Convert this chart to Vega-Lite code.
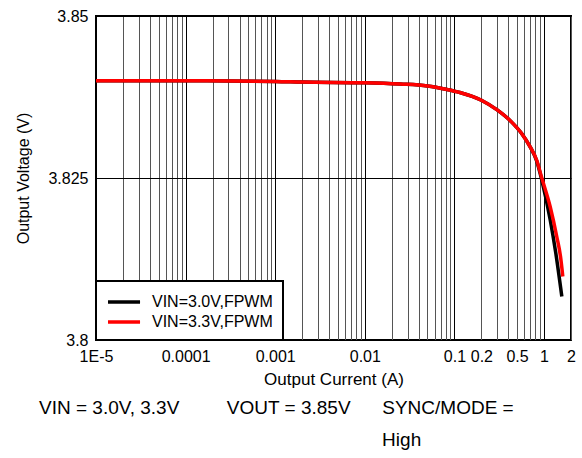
{
  "$schema": "https://vega.github.io/schema/vega-lite/v6.json",
  "width": 475,
  "height": 324,
  "autosize": {"type": "none"},
  "padding": {"left": 96, "top": 16, "right": 11, "bottom": 118},
  "background": "white",
  "config": {
    "font": "Liberation Sans",
    "view": {"stroke": "black", "strokeWidth": 2}
  },
  "title": {
    "text": [
      "VIN = 3.0V, 3.3V\u00a0\u00a0\u00a0\u00a0\u00a0\u00a0\u00a0\u00a0\u00a0VOUT = 3.85V\u00a0\u00a0\u00a0\u00a0\u00a0\u00a0SYNC/MODE =",
      "\u200b\u00a0\u00a0\u00a0\u00a0\u00a0\u00a0\u00a0\u00a0\u00a0\u00a0\u00a0\u00a0\u00a0\u00a0\u00a0\u00a0\u00a0\u00a0\u00a0\u00a0\u00a0\u00a0\u00a0\u00a0\u00a0\u00a0\u00a0\u00a0\u00a0\u00a0\u00a0\u00a0\u00a0\u00a0\u00a0\u00a0\u00a0\u00a0\u00a0\u00a0\u00a0\u00a0\u00a0\u00a0\u00a0\u00a0\u00a0\u00a0\u00a0\u00a0\u00a0\u00a0\u00a0\u00a0\u00a0\u00a0\u00a0\u00a0\u00a0\u00a0\u00a0\u00a0\u00a0\u00a0\u00a0High"
    ],
    "orient": "bottom",
    "anchor": "start",
    "frame": "group",
    "dx": -57,
    "fontSize": 19,
    "fontWeight": "normal",
    "color": "black",
    "lineHeight": 32,
    "offset": 12
  },
  "data": {
    "values": [
      {"I": 0.00001, "V": 3.8400, "s": "VIN=3.0V,FPWM"},
      {"I": 0.0001, "V": 3.8400, "s": "VIN=3.0V,FPWM"},
      {"I": 0.001, "V": 3.8399, "s": "VIN=3.0V,FPWM"},
      {"I": 0.002, "V": 3.8398, "s": "VIN=3.0V,FPWM"},
      {"I": 0.01, "V": 3.8397, "s": "VIN=3.0V,FPWM"},
      {"I": 0.025, "V": 3.8395, "s": "VIN=3.0V,FPWM"},
      {"I": 0.05, "V": 3.8392, "s": "VIN=3.0V,FPWM"},
      {"I": 0.08, "V": 3.8387, "s": "VIN=3.0V,FPWM"},
      {"I": 0.115, "V": 3.8382, "s": "VIN=3.0V,FPWM"},
      {"I": 0.2, "V": 3.8370, "s": "VIN=3.0V,FPWM"},
      {"I": 0.3, "V": 3.8355, "s": "VIN=3.0V,FPWM"},
      {"I": 0.43, "V": 3.8337, "s": "VIN=3.0V,FPWM"},
      {"I": 0.56, "V": 3.8319, "s": "VIN=3.0V,FPWM"},
      {"I": 0.7, "V": 3.8298, "s": "VIN=3.0V,FPWM"},
      {"I": 0.83, "V": 3.8276, "s": "VIN=3.0V,FPWM"},
      {"I": 0.94, "V": 3.8248, "s": "VIN=3.0V,FPWM"},
      {"I": 1.17, "V": 3.8186, "s": "VIN=3.0V,FPWM"},
      {"I": 1.35, "V": 3.8135, "s": "VIN=3.0V,FPWM"},
      {"I": 1.58, "V": 3.8067, "s": "VIN=3.0V,FPWM"},
      {"I": 0.00001, "V": 3.8400, "s": "VIN=3.3V,FPWM"},
      {"I": 0.0001, "V": 3.8400, "s": "VIN=3.3V,FPWM"},
      {"I": 0.001, "V": 3.8399, "s": "VIN=3.3V,FPWM"},
      {"I": 0.002, "V": 3.8398, "s": "VIN=3.3V,FPWM"},
      {"I": 0.01, "V": 3.8397, "s": "VIN=3.3V,FPWM"},
      {"I": 0.025, "V": 3.8395, "s": "VIN=3.3V,FPWM"},
      {"I": 0.05, "V": 3.8392, "s": "VIN=3.3V,FPWM"},
      {"I": 0.08, "V": 3.8387, "s": "VIN=3.3V,FPWM"},
      {"I": 0.115, "V": 3.8382, "s": "VIN=3.3V,FPWM"},
      {"I": 0.2, "V": 3.8370, "s": "VIN=3.3V,FPWM"},
      {"I": 0.3, "V": 3.8355, "s": "VIN=3.3V,FPWM"},
      {"I": 0.43, "V": 3.8337, "s": "VIN=3.3V,FPWM"},
      {"I": 0.56, "V": 3.8319, "s": "VIN=3.3V,FPWM"},
      {"I": 0.7, "V": 3.8298, "s": "VIN=3.3V,FPWM"},
      {"I": 0.83, "V": 3.8277, "s": "VIN=3.3V,FPWM"},
      {"I": 0.94, "V": 3.8251, "s": "VIN=3.3V,FPWM"},
      {"I": 1.17, "V": 3.8206, "s": "VIN=3.3V,FPWM"},
      {"I": 1.39, "V": 3.8159, "s": "VIN=3.3V,FPWM"},
      {"I": 1.53, "V": 3.8128, "s": "VIN=3.3V,FPWM"},
      {"I": 1.62, "V": 3.8098, "s": "VIN=3.3V,FPWM"}
    ]
  },
  "mark": {"type": "line", "strokeWidth": 3.5, "interpolate": "monotone"},
  "encoding": {
    "x": {
      "field": "I",
      "type": "quantitative",
      "scale": {"type": "log", "domain": [0.00001, 2], "nice": false},
      "axis": {
        "title": "Output Current (A)",
        "titleFontSize": 17,
        "titleFontWeight": "normal",
        "titleColor": "black",
        "titlePadding": 7,
        "values": [0.00001, 0.00002, 0.00003, 0.00004, 0.00005, 0.00006, 0.00007, 0.00008, 0.00009,
                   0.0001, 0.0002, 0.0003, 0.0004, 0.0005, 0.0006, 0.0007, 0.0008, 0.0009,
                   0.001, 0.002, 0.003, 0.004, 0.005, 0.006, 0.007, 0.008, 0.009,
                   0.01, 0.02, 0.03, 0.04, 0.05, 0.06, 0.07, 0.08, 0.09,
                   0.1, 0.2, 0.3, 0.4, 0.5, 0.6, 0.7, 0.8, 0.9, 1, 2],
        "labelExpr": "datum.value == 0.00001 ? '1E-5' : datum.value == 0.0001 ? '0.0001' : datum.value == 0.001 ? '0.001' : datum.value == 0.01 ? '0.01' : datum.value == 0.1 ? '0.1' : datum.value == 0.2 ? '0.2' : datum.value == 0.5 ? '0.5' : datum.value == 1 ? '1' : datum.value == 2 ? '2' : ''",
        "labelFontSize": 16,
        "labelColor": "black",
        "labelPadding": 8,
        "labelOverlap": false,
        "labelFlush": false,
        "labelBound": false,
        "ticks": false,
        "domain": false,
        "grid": true,
        "gridColor": {
          "condition": {"test": "abs(log(datum.value)/LN10 - round(log(datum.value)/LN10)) < 0.001", "value": "black"},
          "value": "#555555"
        },
        "gridWidth": 1,
        "gridOpacity": 1
      }
    },
    "y": {
      "field": "V",
      "type": "quantitative",
      "scale": {"domain": [3.8, 3.85], "nice": false, "zero": false},
      "axis": {
        "title": "Output Voltage (V)",
        "titleFontSize": 16,
        "titleFontWeight": "normal",
        "titleColor": "black",
        "titlePadding": 16,
        "values": [3.8, 3.825, 3.85],
        "labelExpr": "datum.value < 3.81 ? '3.8' : datum.value < 3.84 ? '3.825' : '3.85'",
        "labelFontSize": 16,
        "labelColor": "black",
        "labelPadding": 8,
        "labelFlush": false,
        "labelOverlap": false,
        "ticks": false,
        "domain": false,
        "grid": true,
        "gridColor": "black",
        "gridWidth": 1,
        "gridOpacity": 1
      }
    },
    "color": {
      "field": "s",
      "type": "nominal",
      "scale": {"domain": ["VIN=3.0V,FPWM", "VIN=3.3V,FPWM"], "range": ["black", "#ff0000"]},
      "legend": {
        "title": null,
        "orient": "bottom-left",
        "offset": 0,
        "fillColor": "white",
        "strokeColor": "black",
        "padding": 10,
        "symbolType": "M-1,0L2.56,0",
        "symbolSize": 324,
        "symbolStrokeWidth": 3.5,
        "labelFontSize": 16,
        "labelColor": "black",
        "labelOffset": 24,
        "rowPadding": 1,
        "encode": {"legend": {"update": {"strokeWidth": {"value": 2}}}}
      }
    }
  }
}
